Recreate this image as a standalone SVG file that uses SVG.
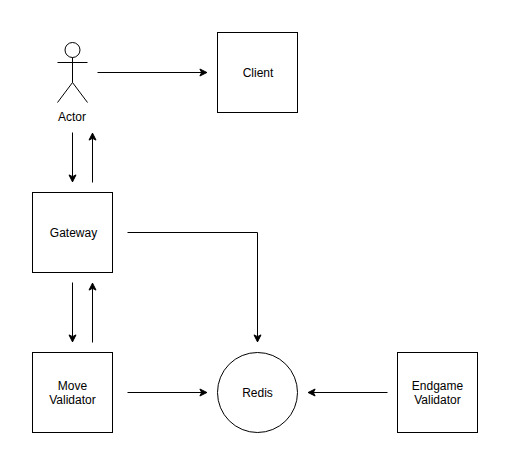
<svg xmlns="http://www.w3.org/2000/svg" width="510" height="465" viewBox="0 0 510 465">
<style>
.s{fill:#fff;stroke:#000;stroke-width:1}
.c{fill:none;stroke:#000;stroke-width:1;stroke-miterlimit:10}
text{font-family:"Liberation Sans",Arial,sans-serif;font-size:12px;fill:#000;text-anchor:middle}
</style>
<defs><marker id="a" markerUnits="userSpaceOnUse" markerWidth="12" markerHeight="12" refX="8" refY="6" orient="auto" overflow="visible"><path d="M1 2.5L8 6L1 9.5L2.75 6Z" fill="#000" stroke="#000" stroke-miterlimit="10"/></marker></defs>
<rect width="510" height="465" fill="#fff"/>
<g id="connectors">
<path class="c" marker-end="url(#a)" d="M97.5 72.5H206.9"/>
<path class="c" marker-end="url(#a)" d="M72.5 132.5V181.9"/>
<path class="c" marker-end="url(#a)" d="M92.5 182.5V133.1"/>
<path class="c" marker-end="url(#a)" d="M127.5 232.5H257.5V341.9"/>
<path class="c" marker-end="url(#a)" d="M72.5 282.5V341.9"/>
<path class="c" marker-end="url(#a)" d="M92.5 342.5V283.1"/>
<path class="c" marker-end="url(#a)" d="M127.5 392.5H206.9"/>
<path class="c" marker-end="url(#a)" d="M387.5 392.5H308.1"/>
</g>
<g id="actor"><circle class="s" cx="72.5" cy="50" r="7.5"/><path class="c" d="M72.5 57.5V82.5M57.5 62.5H87.5M57.5 102.5L72.5 82.5L87.5 102.5"/><text x="72" y="121">Actor</text></g>
<g id="client"><rect class="s" x="217.5" y="32.5" width="80" height="80"/><text x="258" y="77">Client</text></g>
<g id="gateway"><rect class="s" x="32.5" y="192.5" width="80" height="80"/><text x="73.5" y="237">Gateway</text></g>
<g id="move-validator"><rect class="s" x="32.5" y="352.5" width="80" height="80"/><text x="72.5" y="390">Move</text><text x="72.5" y="404">Validator</text></g>
<g id="redis"><circle class="s" cx="257.5" cy="392.5" r="40"/><text x="257.5" y="397">Redis</text></g>
<g id="endgame-validator"><rect class="s" x="397.5" y="352.5" width="80" height="80"/><text x="437.5" y="390">Endgame</text><text x="437.5" y="404">Validator</text></g>
</svg>
